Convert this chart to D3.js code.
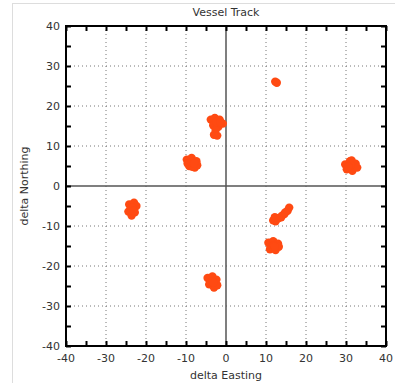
<!DOCTYPE html>
<html>
<head>
<meta charset="utf-8">
<script src="https://cdn.jsdelivr.net/npm/d3@7"></script>
<style>
  body { margin: 0; background: #fff; }
  text { font-family: "DejaVu Sans", Verdana, sans-serif; fill: #333; }
</style>
</head>
<body>
<script>
// Track fixes (metres from reference point)
var trackEast = [
  12.3, 12.7,
  -3.8, -2.8, -1.6, -0.8, -3.2, -1.9, -2.6, -3.0, -2.2, -2.4, -1.4,
  -9.8, -8.6, -7.4, -9.2, -7.8, -8.4, -9.6, -7.2, -8.6, -8.0,
  -24.2, -23.0, -22.4, -24.4, -23.6, -22.8, -23.8, -23.4, -23.2,
  -4.6, -3.4, -2.4, -4.2, -3.0, -2.2, -3.8, -3.4, -3.2,
  10.6, 11.8, 13.0, 11.0, 12.4, 13.2, 11.6, 12.0, 12.2,
  11.8, 12.8, 13.8, 14.6, 15.4, 15.8, 12.4, 14.0, 13.2, 14.8, 12.2,
  29.8, 31.0, 32.4, 30.2, 31.6, 32.8, 30.8, 31.4, 31.2, 30.6
];
var trackNorth = [
  26.1, 25.8,
  16.6, 17.0, 16.6, 15.6, 15.2, 14.8, 14.0, 12.8, 12.6, 16.0, 16.0,
  6.6, 7.0, 6.2, 5.0, 4.6, 4.8, 5.6, 5.2, 6.0, 5.6,
  -4.6, -4.2, -5.0, -6.4, -7.4, -6.6, -5.6, -5.4, -6.2,
  -23.0, -22.6, -23.4, -24.6, -25.4, -24.8, -24.0, -23.8, -24.2,
  -14.2, -13.8, -14.4, -15.8, -16.0, -15.2, -15.0, -14.8, -15.2,
  -8.6, -8.2, -7.8, -7.0, -6.2, -5.4, -8.8, -7.4, -8.0, -6.6, -7.8,
  5.4, 6.2, 5.6, 4.2, 3.8, 4.6, 5.0, 6.4, 5.2, 4.8
];

var xTicks = [-40, -30, -20, -10, 0, 10, 20, 30, 40];
var yTicks = [-40, -30, -20, -10, 0, 10, 20, 30, 40];
var minorTicks = d3.range(-35, 40, 5);

var margin = {top: 26, left: 66},
    width = 320,
    height = 320;

var svg = d3.select("body").append("svg")
            .attr("width", 395)
            .attr("height", 383);

// light page frame
svg.append("rect")
   .attr("x", 12.5).attr("y", 3.5)
   .attr("width", 420).attr("height", 420)
   .attr("fill", "none")
   .attr("stroke", "#ddd");

var x = d3.scaleLinear().domain([-40, 40]).range([0, width]);
var y = d3.scaleLinear().domain([-40, 40]).range([height, 0]);

var plot = svg.append("g")
              .attr("transform", "translate(" + margin.left + "," + margin.top + ")");

// dotted grid
var gridX = xTicks.filter(function(d) { return d !== 0 && Math.abs(d) !== 40; });
plot.selectAll(".gx").data(gridX).enter().append("line")
    .attr("x1", x).attr("x2", x)
    .attr("y1", 0).attr("y2", height)
    .attr("stroke", "#777").attr("stroke-width", 1)
    .attr("stroke-dasharray", "1,3");
var gridY = yTicks.filter(function(d) { return d !== 0 && Math.abs(d) !== 40; });
plot.selectAll(".gy").data(gridY).enter().append("line")
    .attr("y1", y).attr("y2", y)
    .attr("x1", 0).attr("x2", width)
    .attr("stroke", "#777").attr("stroke-width", 1)
    .attr("stroke-dasharray", "1,3");

// zero lines
plot.append("line")
    .attr("x1", x(0)).attr("x2", x(0)).attr("y1", 0).attr("y2", height)
    .attr("stroke", "#555").attr("stroke-width", 1.5);
plot.append("line")
    .attr("y1", y(0)).attr("y2", y(0)).attr("x1", 0).attr("x2", width)
    .attr("stroke", "#555").attr("stroke-width", 1.5);

// points
plot.selectAll(".pt").data(trackEast).enter().append("circle")
    .attr("cx", function(d) { return x(d); })
    .attr("cy", function(d, i) { return y(trackNorth[i]); })
    .attr("r", 4.2)
    .attr("fill", "#ff4a12");

// axes with inward ticks
var allTicks = minorTicks.concat([-40, 40]);
function inTicks(sel, axis) {
  sel.call(axis);
  sel.select(".domain").remove();
  sel.selectAll("line").attr("stroke", "#000").attr("stroke-width", 2);
}
plot.append("g").attr("transform", "translate(0," + height + ")")
    .call(inTicks, d3.axisBottom(x).tickValues(allTicks).tickSize(-5).tickFormat(""));
plot.append("g")
    .call(inTicks, d3.axisTop(x).tickValues(allTicks).tickSize(-5).tickFormat(""));
plot.append("g")
    .call(inTicks, d3.axisLeft(y).tickValues(allTicks).tickSize(-5).tickFormat(""));
plot.append("g").attr("transform", "translate(" + width + ",0)")
    .call(inTicks, d3.axisRight(y).tickValues(allTicks).tickSize(-5).tickFormat(""));

// frame
plot.append("rect")
    .attr("width", width).attr("height", height)
    .attr("fill", "none")
    .attr("stroke", "#000").attr("stroke-width", 2);

// tick labels
plot.selectAll(".xl").data(xTicks).enter().append("text")
    .attr("x", x).attr("y", height + 16)
    .attr("text-anchor", "middle")
    .attr("font-size", 11)
    .text(function(d) { return d; });
plot.selectAll(".yl").data(yTicks).enter().append("text")
    .attr("x", -6).attr("y", function(d) { return y(d) + 4; })
    .attr("text-anchor", "end")
    .attr("font-size", 11)
    .text(function(d) { return d; });

// titles
svg.append("text")
   .attr("x", margin.left + width / 2).attr("y", 16)
   .attr("text-anchor", "middle").attr("font-size", 11)
   .text("Vessel Track");
svg.append("text")
   .attr("x", margin.left + width / 2).attr("y", 379)
   .attr("text-anchor", "middle").attr("font-size", 11)
   .text("delta Easting");
svg.append("text")
   .attr("transform", "translate(28," + (margin.top + height / 2) + ") rotate(-90)")
   .attr("text-anchor", "middle").attr("font-size", 11)
   .text("delta Northing");
</script>
</body>
</html>
